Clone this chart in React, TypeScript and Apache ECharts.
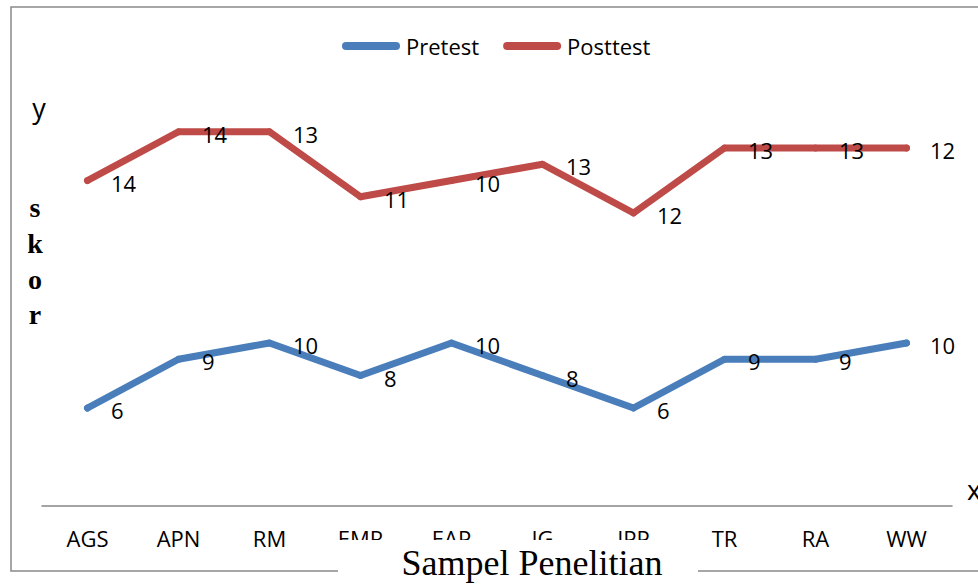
import React, { useEffect, useRef } from "react";
import * as echarts from "echarts";

const categories = ["AGS", "APN", "RM", "EMR", "EAP", "IG", "IPP", "TR", "RA", "WW"];
const pretest = [6, 9, 10, 8, 10, 8, 6, 9, 9, 10];
const posttest = [14, 14, 13, 11, 10, 13, 12, 13, 13, 12];
const seriesNames = ["Pretest", "Posttest"];
const xTitle = "Sampel Penelitian";
const yTitleLetters = ["s", "k", "o", "r"];

const BLUE = "#4A7EBB";
const RED = "#BE4B48";
const SANS = "'Open Sans', sans-serif";
const SERIF = "'Liberation Serif', 'Times New Roman', serif";

export default function App() {
  const ref = useRef<HTMLDivElement>(null);
  useEffect(() => {
    if (!ref.current) return;
    const chart = echarts.init(ref.current, undefined, { renderer: "svg" });
    const labelCfg = {
      show: true,
      position: "right",
      distance: 20,
      offset: [0, 2],
      color: "#000",
      fontFamily: SANS,
      fontSize: 22,
    };
    const legendIcon = "path://M4,0 L54,0 A4,4 0 0 1 54,8 L4,8 A4,4 0 0 1 4,0 Z";
    chart.setOption({
      animation: false,
      backgroundColor: "#fff",
      grid: { left: 42, right: 26, top: 99.25, bottom: 78.5, containLabel: false },
      legend: {
        data: seriesNames,
        left: 337,
        top: 30,
        itemWidth: 60,
        itemHeight: 8,
        itemGap: 24,
        icon: legendIcon,
        textStyle: { fontFamily: SANS, fontSize: 22, color: "#000" },
      },
      xAxis: {
        type: "category",
        data: categories,
        boundaryGap: true,
        axisLine: { show: true, lineStyle: { color: "#868686", width: 1.5 } },
        axisTick: { show: false },
        axisLabel: { color: "#000", fontFamily: SANS, fontSize: 22, margin: 21, interval: 0 },
      },
      yAxis: {
        type: "value",
        min: 0,
        max: 25,
        show: false,
        splitLine: { show: false },
      },
      series: [
        {
          name: seriesNames[0],
          type: "line",
          stack: "total",
          data: pretest,
          symbol: "circle",
          symbolSize: 7,
          itemStyle: { color: BLUE },
          lineStyle: { color: BLUE, width: 7, cap: "round", join: "round" },
          label: labelCfg,
        },
        {
          name: seriesNames[1],
          type: "line",
          stack: "total",
          data: posttest,
          symbol: "circle",
          symbolSize: 7,
          itemStyle: { color: RED },
          lineStyle: { color: RED, width: 7, cap: "round", join: "round" },
          label: labelCfg,
        },
      ],
      graphic: [
        {
          type: "rect",
          z: -10,
          silent: true,
          shape: { x: 11, y: 7, width: 1100, height: 564 },
          style: { fill: "none", stroke: "#898989", lineWidth: 1.5 },
        },
        {
          type: "text",
          z: 100,
          x: 39,
          y: 107,
          style: { text: "y", fontFamily: SANS, fontSize: 27, fill: "#000", align: "center", verticalAlign: "middle" },
        },
        {
          type: "text",
          z: 100,
          x: 967,
          y: 489,
          style: { text: "x", fontFamily: SANS, fontSize: 27, fill: "#000", align: "left", verticalAlign: "middle" },
        },
        ...yTitleLetters.map((ch, i) => ({
          type: "text",
          z: 100,
          x: 35,
          y: [207, 243, 279, 314][i],
          style: {
            text: ch,
            fontFamily: SERIF,
            fontWeight: "bold",
            fontSize: 28,
            fill: "#000",
            align: "center",
            verticalAlign: "middle",
          },
        })),
        {
          type: "rect",
          z: 100,
          silent: true,
          shape: { x: 338, y: 540, width: 360, height: 50 },
          style: { fill: "#fff", stroke: "none" },
        },
        {
          type: "text",
          z: 101,
          x: 532,
          y: 563,
          style: { text: xTitle, fontFamily: SERIF, fontSize: 36, fill: "#000", align: "center", verticalAlign: "middle" },
        },
      ],
    });
    return () => chart.dispose();
  }, []);
  return (
    <div
      ref={ref}
      style={{ position: "fixed", left: 0, top: 0, width: 978, height: 584, background: "#fff" }}
    />
  );
}
